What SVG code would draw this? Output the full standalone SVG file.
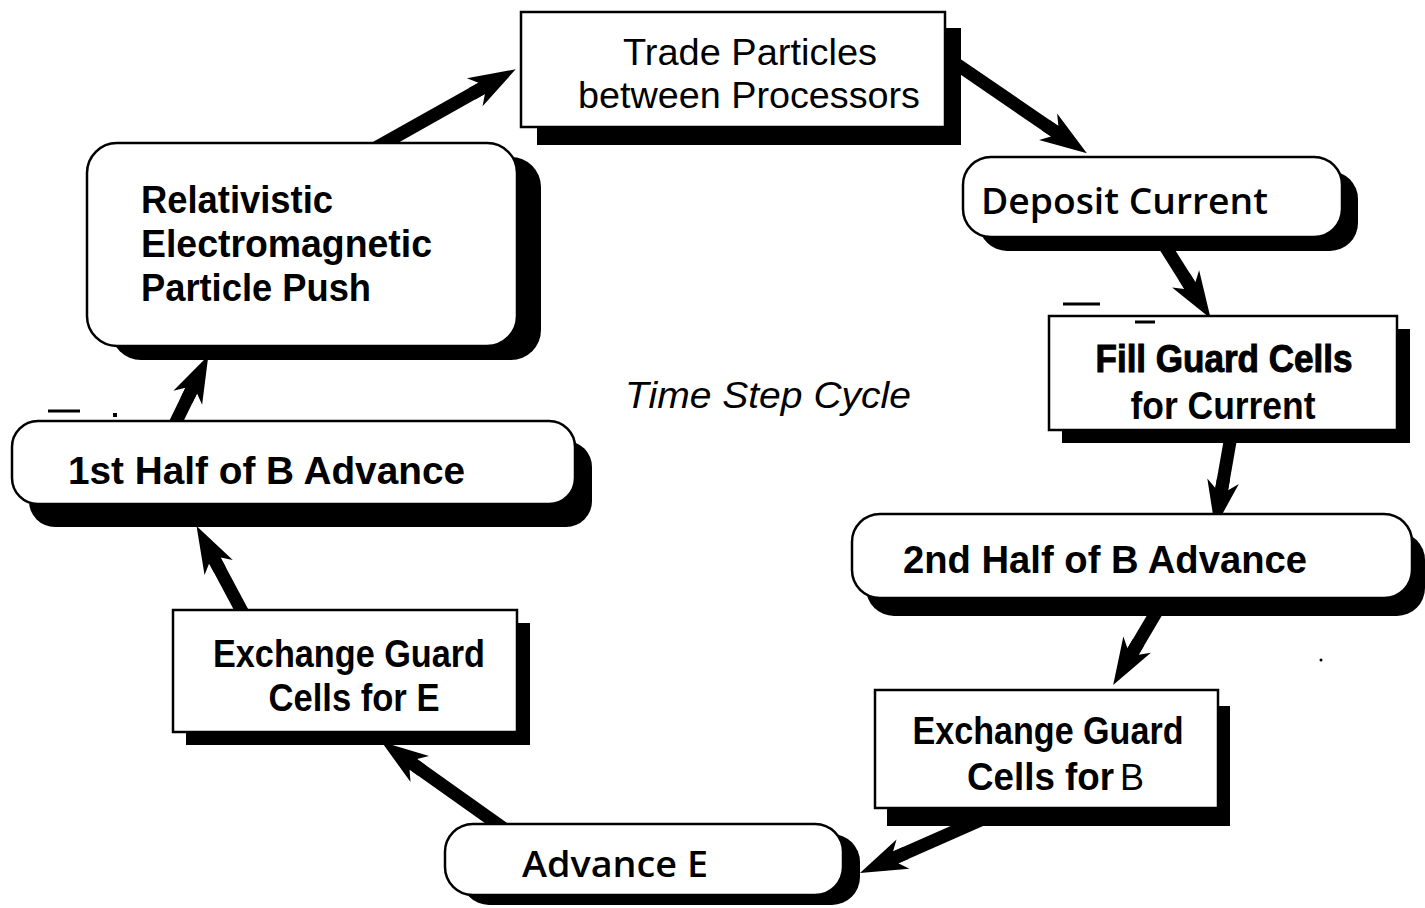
<svg xmlns="http://www.w3.org/2000/svg" width="1425" height="908" viewBox="0 0 1425 908">
<style>
.box{fill:#fff;stroke:#000;stroke-width:2.5}
.sh{fill:#000}
.b{font-family:"Liberation Sans",Arial,sans-serif;font-weight:bold;font-size:38px;fill:#000}
.n{font-family:"Liberation Sans",Arial,sans-serif;font-size:36px;fill:#000}
.sb{font-family:"Open Sans","Liberation Sans",sans-serif;font-weight:600;font-size:36px;fill:#000}
.it{font-family:"Liberation Sans",Arial,sans-serif;font-style:italic;font-size:37px;fill:#000}
.arr{stroke:#000;stroke-width:13;fill:none;marker-end:url(#ah)}
.mk{stroke:#000;stroke-width:3}
</style>
<defs>
<marker id="ah" markerUnits="userSpaceOnUse" viewBox="0 -17 50 34" refX="15" refY="0" markerWidth="50" markerHeight="34" orient="auto">
<path d="M50,0 L3,-16 L11,-6.5 L0,-6.5 L0,6.5 L11,6.5 L3,16 Z" fill="#000"/>
</marker>
</defs>
<g id="connectors">
<line class="arr" x1="372" y1="150" x2="485.2" y2="86.4"/>
<line class="arr" x1="955" y1="63" x2="1058" y2="133.5"/>
<line class="arr" x1="1163" y1="243" x2="1192" y2="289"/>
<line class="arr" x1="1231" y1="436" x2="1221" y2="493"/>
<line class="arr" x1="1160" y1="606" x2="1131" y2="655"/>
<line class="arr" x1="985" y1="818" x2="892" y2="859"/>
<line class="arr" x1="503" y1="828" x2="410" y2="762"/>
<line class="arr" x1="245" y1="617" x2="213" y2="557"/>
<line class="arr" x1="172" y1="430" x2="193" y2="387"/>
</g>
<g id="n-trade">
<rect class="sh" x="537" y="28" width="424" height="117"/>
<rect class="box" x="521" y="12" width="424" height="115"/>
<text class="n" x="750" y="65" text-anchor="middle" textLength="254" lengthAdjust="spacingAndGlyphs">Trade Particles</text>
<text class="n" x="749" y="108" text-anchor="middle" textLength="342" lengthAdjust="spacingAndGlyphs">between Processors</text>
</g>
<g id="n-deposit">
<rect class="sh" x="979" y="171" width="379" height="80" rx="28"/>
<rect class="box" x="963" y="157" width="379" height="80" rx="28"/>
<text class="sb" x="981" y="214" textLength="287" lengthAdjust="spacingAndGlyphs">Deposit Current</text>
</g>
<g id="n-fill">
<rect class="sh" x="1062" y="329" width="348" height="114"/>
<rect class="box" x="1049" y="316" width="348" height="114"/>
<text class="b" x="1224" y="372" text-anchor="middle" textLength="257" lengthAdjust="spacingAndGlyphs" stroke="#000" stroke-width="1">Fill Guard Cells</text>
<text class="b" x="1223" y="419" text-anchor="middle" textLength="185" lengthAdjust="spacingAndGlyphs">for Current</text>
<line class="mk" x1="1063" y1="304" x2="1100" y2="304"/>
<line class="mk" x1="1135" y1="322" x2="1155" y2="322"/>
</g>
<g id="n-2nd">
<rect class="sh" x="866" y="532" width="559" height="84" rx="28"/>
<rect class="box" x="852" y="514" width="560" height="84" rx="28"/>
<text class="b" x="903" y="573" textLength="404" lengthAdjust="spacingAndGlyphs">2nd Half of B Advance</text>
</g>
<g id="n-exb">
<rect class="sh" x="887" y="706" width="343" height="120"/>
<rect class="box" x="875" y="690" width="343" height="118"/>
<text class="b" x="1048" y="744" text-anchor="middle" textLength="271" lengthAdjust="spacingAndGlyphs">Exchange Guard</text>
<text class="b" x="967" y="790" textLength="147" lengthAdjust="spacingAndGlyphs">Cells for</text>
<text class="n" x="1120" y="790">B</text>
<circle cx="1321" cy="660" r="1.5" fill="#000"/>
</g>
<g id="n-adve">
<rect class="sh" x="461" y="834" width="399" height="71" rx="28"/>
<rect class="box" x="445" y="824" width="398" height="71" rx="28"/>
<text class="sb" x="522" y="877" textLength="186" lengthAdjust="spacingAndGlyphs">Advance E</text>
</g>
<g id="n-exe">
<rect class="sh" x="186" y="623" width="344" height="122"/>
<rect class="box" x="173" y="610" width="344" height="122"/>
<text class="b" x="349" y="667" text-anchor="middle" textLength="272" lengthAdjust="spacingAndGlyphs">Exchange Guard</text>
<text class="b" x="354" y="711" text-anchor="middle" textLength="171" lengthAdjust="spacingAndGlyphs">Cells for E</text>
</g>
<g id="n-1st">
<rect class="sh" x="29" y="441" width="563" height="86" rx="26"/>
<rect class="box" x="12" y="421" width="563" height="83" rx="26"/>
<text class="b" x="68" y="484" textLength="397" lengthAdjust="spacingAndGlyphs">1st Half of B Advance</text>
<line class="mk" x1="48" y1="411" x2="80" y2="411"/>
<rect x="113" y="413" width="4" height="4" fill="#000"/>
</g>
<g id="n-push">
<rect class="sh" x="111" y="157" width="430" height="203" rx="30"/>
<rect class="box" x="87" y="143" width="430" height="203" rx="30"/>
<text class="b" x="141" y="213" textLength="192" lengthAdjust="spacingAndGlyphs">Relativistic</text>
<text class="b" x="141" y="257" textLength="291" lengthAdjust="spacingAndGlyphs">Electromagnetic</text>
<text class="b" x="141" y="301" textLength="230" lengthAdjust="spacingAndGlyphs">Particle Push</text>
</g>
<g id="center-label">
<text class="it" x="625" y="408" textLength="286" lengthAdjust="spacingAndGlyphs">Time Step Cycle</text>
</g>
</svg>
